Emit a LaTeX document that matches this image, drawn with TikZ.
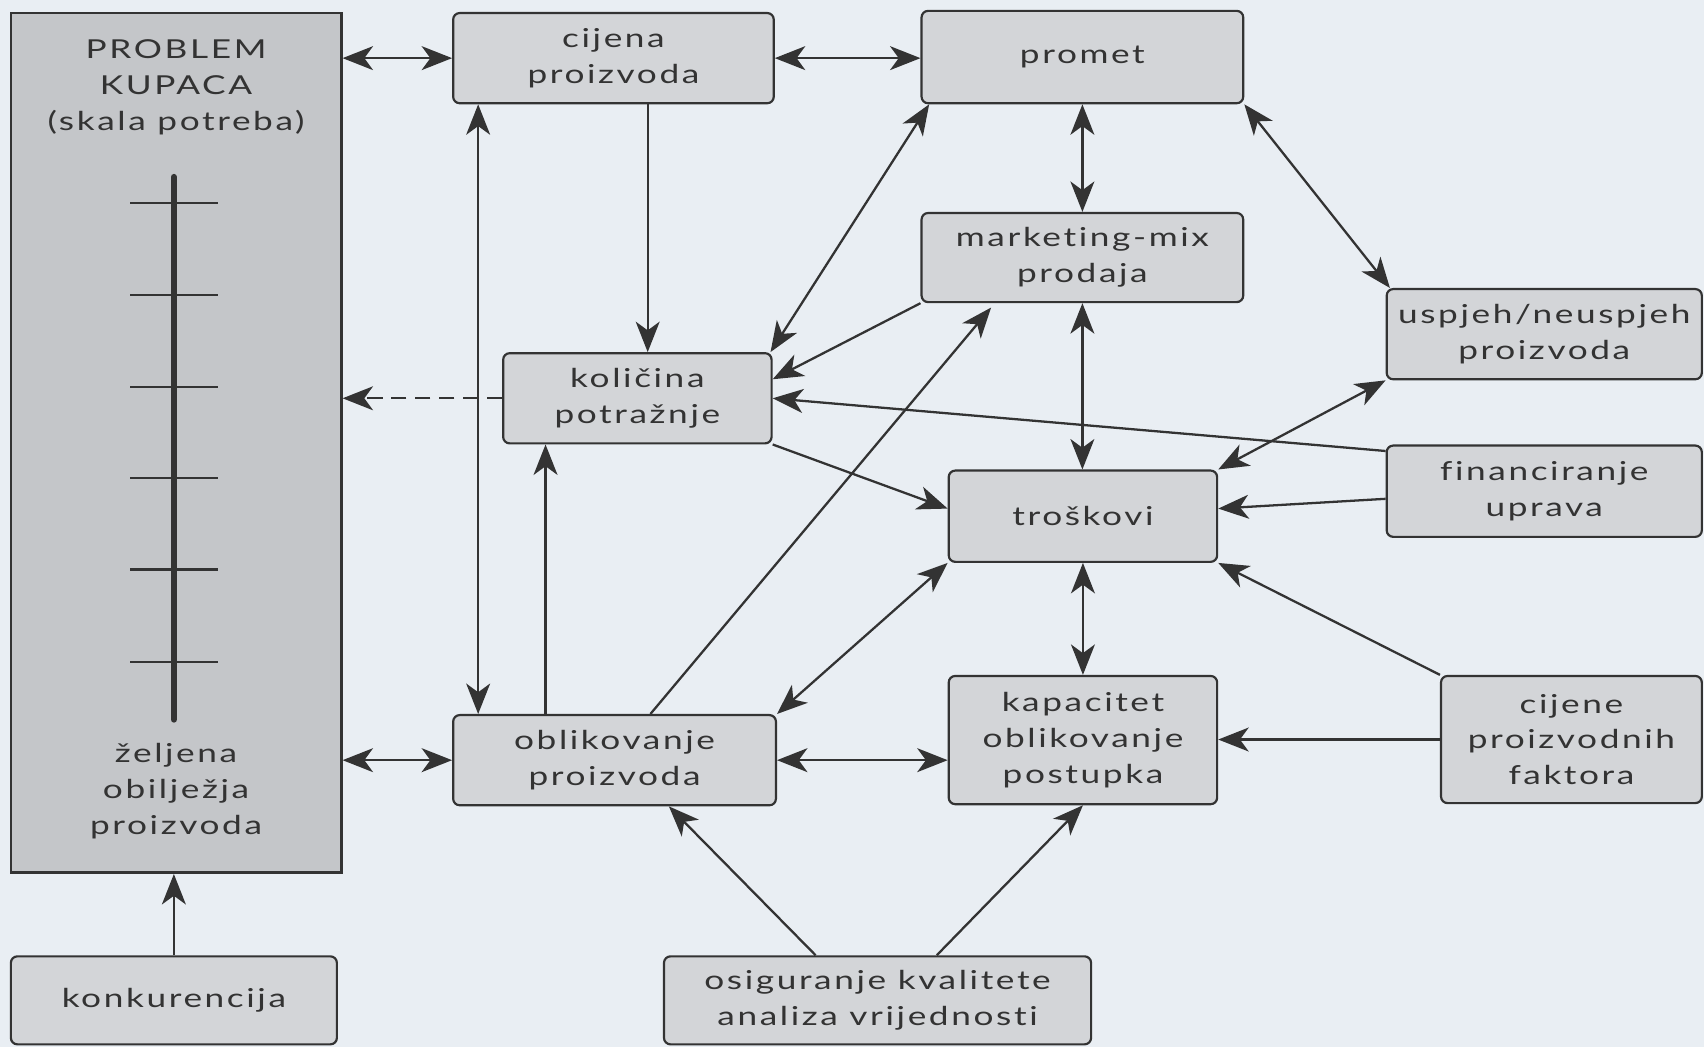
\documentclass[tikz,border=0pt]{standalone}
\usepackage{fontspec}
\setmainfont{Lato}[FakeStretch=1.35,LetterSpace=10,Ligatures=NoCommon]
\usetikzlibrary{arrows.meta}
\definecolor{bg}{HTML}{E9EEF3}
\definecolor{boxfill}{HTML}{D3D5D8}
\definecolor{bigfill}{HTML}{C4C6C9}
\definecolor{ink}{HTML}{333333}
\tikzset{tiphead/.tip={Stealth[length=28pt,width=22pt,inset=8pt]}}
\begin{document}
\begin{tikzpicture}[x=1pt,y=-1pt,
  box/.style={draw=ink, line width=2pt, fill=boxfill, rounded corners=6pt, align=center, inner sep=0pt, text=ink, font=\fontsize{24}{33}\selectfont},
  txt/.style={align=center, inner sep=0pt, text=ink, font=\fontsize{24}{33}\selectfont},
  conn/.style={draw=ink, line width=2.1pt},
  onearrow/.style={conn, -tiphead},
  twoarrow/.style={conn, tiphead-tiphead},
]
\useasboundingbox (0,0) rectangle (1568,963);
\fill[bg] (0,0) rectangle (1568,963);

% left big box
\node[draw=ink, line width=2.5pt, fill=bigfill, minimum width=304pt, minimum height=791pt, inner sep=0pt] (big) at (162,407.5) {};
\node[txt] (bigtop) at (162,80) {PROBLEM\\KUPACA\\(skala potreba)};
\node[txt] (bigbot) at (162,728) {željena\\obilježja\\proizvoda};
\draw[ink, line width=6pt, line cap=round] (160,163) -- (160,662);
\foreach \yy in {187,271.5,356,440,524,609}
  \draw[ink, line width=2pt] (120,\yy) -- (201,\yy);

% boxes
\node[box, minimum width=295pt, minimum height=83pt] (cijena) at (564.5,53.5) {cijena\\proizvoda};
\node[box, minimum width=296pt, minimum height=85pt] (promet) at (996,52.5) {promet};
\node[box, minimum width=296pt, minimum height=82pt] (marketing) at (996,237) {marketing-mix\\prodaja};
\node[box, minimum width=290pt, minimum height=83pt] (uspjeh) at (1421,307.5) {uspjeh/neuspjeh\\proizvoda};
\node[box, minimum width=247pt, minimum height=83pt] (kolicina) at (586.5,366.5) {količina\\potražnje};
\node[box, minimum width=290pt, minimum height=84pt] (financiranje) at (1421,452) {financiranje\\uprava};
\node[box, minimum width=247pt, minimum height=84pt] (troskovi) at (996.5,475) {troškovi};
\node[box, minimum width=297pt, minimum height=83pt] (oblikovanje) at (565.5,699.5) {oblikovanje\\proizvoda};
\node[box, minimum width=247pt, minimum height=118pt] (kapacitet) at (996.5,681) {kapacitet\\oblikovanje\\postupka};
\node[box, minimum width=240pt, minimum height=117pt] (cijene) at (1446,680.5) {cijene\\proizvodnih\\faktora};
\node[box, minimum width=393pt, minimum height=81pt] (osiguranje) at (807.5,920.5) {osiguranje kvalitete\\analiza vrijednosti};
\node[box, minimum width=300pt, minimum height=81pt] (konk) at (160,920.5) {konkurencija};

% connectors
\draw[twoarrow] (big.east |- cijena.west) -- (cijena.west);
\draw[twoarrow] (cijena.east) -- (cijena.east -| promet.west);
\draw[onearrow] ([xshift=31.5pt]cijena.south) -- ([xshift=31.5pt]cijena.south |- kolicina.north);
\draw[twoarrow] ([xshift=24pt]cijena.south west) -- ([xshift=24pt]oblikovanje.north west);
\draw[onearrow] ([xshift=-63.5pt]oblikovanje.north) -- ([xshift=-63.5pt]oblikovanje.north |- kolicina.south);
\draw[twoarrow] (promet.south) -- (marketing.north);
\draw[twoarrow] ([xshift=8pt]promet.south west) -- ([xshift=-2pt]kolicina.north east);
\draw[twoarrow] (promet.south east) -- ([xshift=4pt]uspjeh.north west);
\draw[onearrow] (marketing.south west) -- ([yshift=-25pt]kolicina.north east);
\draw[onearrow] ([xshift=33pt]oblikovanje.north) -- ([xshift=-84pt,yshift=-4pt]marketing.south);
\draw[twoarrow] (marketing.south) -- (marketing.south |- troskovi.north);
\draw[onearrow] ([yshift=-6pt]financiranje.north west) -- (kolicina.east);
\draw[twoarrow] (uspjeh.south west) -- (troskovi.north east);
\draw[onearrow] ([yshift=-7pt]financiranje.west) -- ([yshift=7pt]troskovi.east);
\draw[onearrow] (kolicina.south east) -- ([yshift=7pt]troskovi.west);
\draw[twoarrow] (troskovi.south west) -- (oblikovanje.north east);
\draw[twoarrow] (troskovi.south) -- (troskovi.south |- kapacitet.north);
\draw[onearrow] (cijene.north west) -- (troskovi.south east);
\draw[onearrow] (cijene.west) -- (cijene.west -| kapacitet.east);
\draw[twoarrow] (oblikovanje.east) -- (oblikovanje.east -| kapacitet.west);
\draw[onearrow] ([xshift=-57pt]osiguranje.north) -- ([xshift=50pt]oblikovanje.south);
\draw[onearrow] ([xshift=54.5pt]osiguranje.north) -- (kapacitet.south);
\draw[twoarrow] (big.east |- oblikovanje.west) -- (oblikovanje.west);
\draw[onearrow, dash pattern=on 14pt off 8pt] (kolicina.west) -- (kolicina.west -| big.east);
\draw[onearrow] (konk.north) -- (konk.north |- big.south);
\end{tikzpicture}
\end{document}
